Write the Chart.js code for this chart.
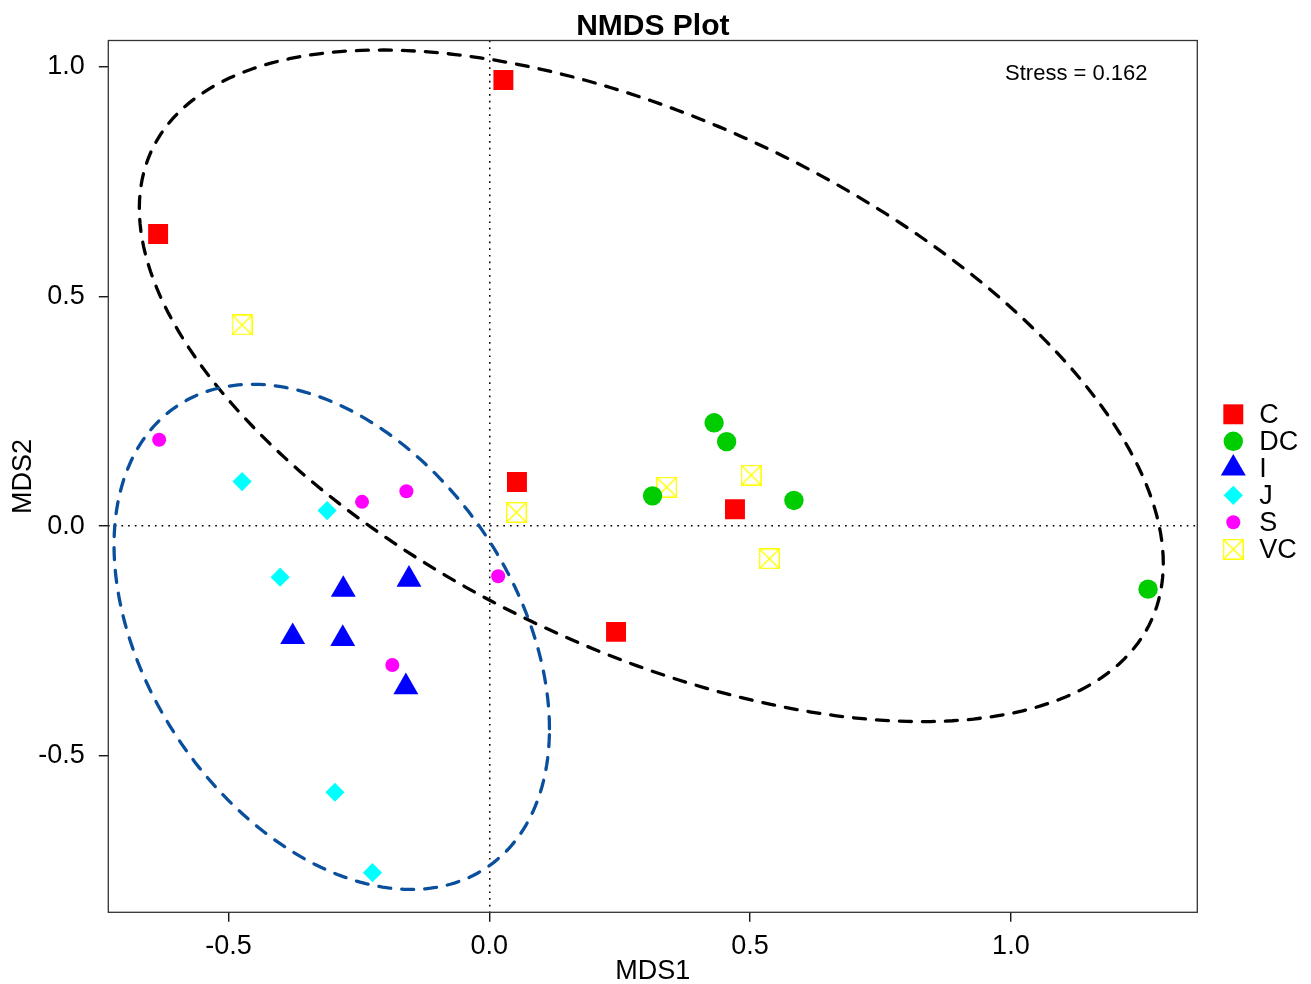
<!DOCTYPE html>
<html>
<head>
<meta charset="utf-8">
<title>NMDS Plot</title>
<script src="https://cdn.jsdelivr.net/npm/chart.js@4.4.1/dist/chart.umd.min.js"></script>
<style>
  html, body { margin: 0; padding: 0; background: #fff; }
  #wrap { width: 1311px; height: 984px; }
</style>
</head>
<body>
<div id="wrap"><canvas id="nmdsChart" width="1311" height="984"></canvas></div>
<script>
// groups in legend order
const groups = ['C', 'DC', 'I', 'J', 'S', 'VC'];

// NMDS scores (MDS1, MDS2) per group
const cMds1 = [0.027, -0.635, 0.053, 0.471, 0.243];
const cMds2 = [0.971, 0.636, 0.096, 0.037, -0.230];
const dcMds1 = [0.431, 0.455, 0.313, 0.584, 1.263];
const dcMds2 = [0.225, 0.184, 0.066, 0.056, -0.137];
const iMds1 = [-0.280, -0.154, -0.377, -0.281, -0.160];
const iMds2 = [-0.138, -0.116, -0.241, -0.245, -0.350];
const jMds1 = [-0.474, -0.311, -0.401, -0.296, -0.224];
const jMds2 = [0.097, 0.034, -0.111, -0.579, -0.754];
const sMds1 = [-0.633, -0.244, -0.159, 0.017, -0.186];
const sMds2 = [0.188, 0.053, 0.076, -0.109, -0.302];
const vcMds1 = [-0.474, 0.052, 0.340, 0.502, 0.537];
const vcMds2 = [0.438, 0.030, 0.085, 0.111, -0.071];

// axis ticks and limits
const xTicks = [-0.5, 0.0, 0.5, 1.0];
const yTicks = [-0.5, 0.0, 0.5, 1.0];
const xLimits = [-0.7305, 1.3574];
const yLimits = [-0.8403, 1.0570];

// ellipses: centre, half extent on each axis, correlation
const ellMds1 = [0.3106, -0.3021];
const ellMds2 = [0.3055, -0.2409];
const ellHalf1 = [0.9816, 0.4174];
const ellHalf2 = [0.7308, 0.5497];
const ellRho = [-0.5286, -0.3637];

const stress = 0.162;

const FONT = "'Liberation Sans', Arial, Helvetica, sans-serif";
Chart.defaults.font.family = FONT;
Chart.defaults.color = '#000';

function pairs(xs, ys) {
    return xs.map((x, i) => ({ x: x, y: ys[i] }));
}

// square with a cross inside (R pch 7)
function boxCross(size, color, lw) {
    const c = document.createElement('canvas');
    c.width = size;
    c.height = size;
    const g = c.getContext('2d');
    g.strokeStyle = color;
    g.lineWidth = lw;
    const h = lw / 2;
    g.strokeRect(h, h, size - lw, size - lw);
    g.beginPath();
    g.moveTo(h, h); g.lineTo(size - h, size - h);
    g.moveTo(size - h, h); g.lineTo(h, size - h);
    g.stroke();
    return c;
}

const groupData = [
    pairs(cMds1, cMds2), pairs(dcMds1, dcMds2), pairs(iMds1, iMds2),
    pairs(jMds1, jMds2), pairs(sMds1, sMds2), pairs(vcMds1, vcMds2)
];
const colors = ['#FF0000', '#00CD00', '#0000FF', '#00FFFF', '#FF00FF', '#FFFF00'];
const styles = ['rect', 'circle', 'triangle', 'rectRot', 'circle', boxCross(21, '#FFFF00', 1.4)];
const radii = [14.1, 9.7, 14.4, 9.6, 7, 10.5];

const datasets = groups.map((g, i) => ({
    label: g,
    data: groupData[i],
    pointStyle: styles[i],
    pointRadius: radii[i],
    pointHoverRadius: radii[i],
    backgroundColor: colors[i],
    borderColor: colors[i],
    borderWidth: 0
}));

// dashed ellipses, zero lines are grid lines
const ellipsePlugin = {
    id: 'ellipses',
    afterDatasetsDraw(chart) {
        const ctx = chart.ctx;
        const xs = chart.scales.x, ys = chart.scales.y;
        const ellColors = ['#000000', '#0A4F9C'];
        ctx.save();
        ctx.beginPath();
        ctx.rect(chart.chartArea.left, chart.chartArea.top,
                 chart.chartArea.right - chart.chartArea.left,
                 chart.chartArea.bottom - chart.chartArea.top);
        ctx.clip();
        ellMds1.forEach((cx, k) => {
            const cy = ellMds2[k];
            const r = ellRho[k];
            const s = Math.sqrt(1 - r * r);
            ctx.beginPath();
            for (let n = 0; n <= 240; n++) {
                const t = n / 240 * Math.PI * 2;
                const px = xs.getPixelForValue(cx + ellHalf1[k] * Math.cos(t));
                const py = ys.getPixelForValue(cy + ellHalf2[k] * (r * Math.cos(t) + s * Math.sin(t)));
                if (n === 0) ctx.moveTo(px, py); else ctx.lineTo(px, py);
            }
            ctx.strokeStyle = ellColors[k];
            ctx.lineWidth = 3.3;
            ctx.lineCap = 'round';
            ctx.setLineDash([12, 11]);
            ctx.stroke();
        });
        ctx.restore();
    }
};

// box, stress note and legend
const framePlugin = {
    id: 'frame',
    afterDraw(chart) {
        const ctx = chart.ctx;
        const a = chart.chartArea;
        ctx.save();
        ctx.strokeStyle = '#333';
        ctx.lineWidth = 1.3;
        ctx.strokeRect(a.left, a.top, a.right - a.left, a.bottom - a.top);

        ctx.fillStyle = '#000';
        ctx.font = '22px ' + FONT;
        ctx.textAlign = 'center';
        ctx.textBaseline = 'middle';
        ctx.fillText('Stress = ' + stress.toFixed(3), a.right - 121, a.top + 33);

        const step = 27;
        const top = (a.top + a.bottom) / 2 + 5.4 - 2.5 * step;
        ctx.font = '27px ' + FONT;
        ctx.textAlign = 'left';
        chart.data.datasets.forEach((ds, i) => {
            const y = top + i * step;
            ctx.fillStyle = ds.backgroundColor;
            ctx.strokeStyle = ds.borderColor;
            Chart.helpers.drawPoint(ctx, {
                pointStyle: ds.pointStyle,
                radius: ds.pointRadius,
                rotation: 0,
                borderWidth: 0
            }, a.right + 36, y);
            ctx.fillStyle = '#000';
            ctx.fillText(ds.label, a.right + 62, y + 1);
        });
        ctx.restore();
    }
};

function zeroLine(c) {
    return c.tick && c.tick.value === 0 ? '#000' : 'rgba(0,0,0,0)';
}

const chart = new Chart(document.getElementById('nmdsChart'), {
    type: 'scatter',
    data: { datasets: datasets },
    options: {
        responsive: false,
        animation: false,
        layout: { padding: { left: 0, right: 113.7, top: 0, bottom: 0 } },
        plugins: {
            legend: { display: false },
            tooltip: { enabled: false },
            title: {
                display: true,
                text: 'NMDS Plot',
                fullSize: false,
                color: '#000',
                font: { size: 30, weight: 'bold', lineHeight: 0.95 },
                padding: { top: 12, bottom: 0 }
            }
        },
        scales: {
            x: {
                type: 'linear',
                min: xLimits[0],
                max: xLimits[1],
                afterBuildTicks: s => { s.ticks = xTicks.map(v => ({ value: v })); },
                afterFit: s => { s.height = 71.7; },
                ticks: {
                    callback: v => v.toFixed(1),
                    font: { size: 27 },
                    color: '#000',
                    padding: 9,
                    maxRotation: 0
                },
                grid: {
                    color: zeroLine,
                    lineWidth: 1.5,
                    drawTicks: true,
                    tickLength: 9.5,
                    tickColor: '#000',
                    tickWidth: 1.3
                },
                border: { display: false, dash: [1.7, 5] },
                title: {
                    display: true,
                    text: 'MDS1',
                    color: '#000',
                    font: { size: 27, lineHeight: 0.9 },
                    padding: { top: 0, bottom: 0 }
                }
            },
            y: {
                type: 'linear',
                min: yLimits[0],
                max: yLimits[1],
                afterBuildTicks: s => { s.ticks = yTicks.map(v => ({ value: v })); },
                afterFit: s => { s.width = 108.3; },
                ticks: {
                    callback: v => v.toFixed(1),
                    font: { size: 27 },
                    color: '#000',
                    padding: 14
                },
                grid: {
                    color: zeroLine,
                    lineWidth: 1.5,
                    drawTicks: true,
                    tickLength: 9.5,
                    tickColor: '#000',
                    tickWidth: 1.3
                },
                border: { display: false, dash: [1.7, 5] },
                title: {
                    display: true,
                    text: 'MDS2',
                    color: '#000',
                    font: { size: 27, lineHeight: 1 },
                    padding: { top: 10, bottom: 0 }
                }
            }
        }
    },
    plugins: [ellipsePlugin, framePlugin]
});
</script>
</body>
</html>
